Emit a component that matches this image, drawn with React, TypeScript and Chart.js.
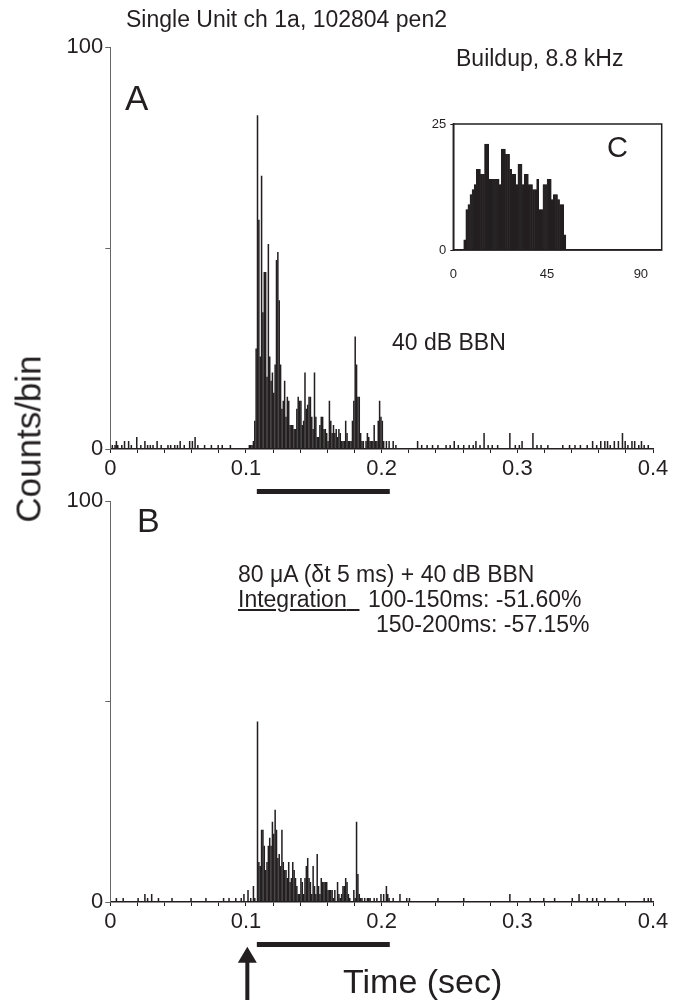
import React, { useEffect, useRef } from "react";
import { Chart, registerables } from "chart.js";

Chart.register(...registerables);

const FONT = "'Liberation Sans', Arial, Helvetica, sans-serif";
const INK = "#231f20";
Chart.defaults.font.family = FONT;

// ---------------- data ----------------
const BIN_SEC = 0.001; // 1 ms bins
const N_BINS = 400;
const ACTIVE_START_BIN = 100;

// Panel A (40 dB BBN), counts per 1-ms bin from 100 ms to 209 ms
const countsA_active = [
  0, 0, 1, 1, 1, 2, 7, 25, 83, 57,
  23, 68, 34, 44, 44, 18, 51, 23, 17, 19,
  14, 21, 47, 49, 37, 21, 10, 12, 17, 8,
  13, 12, 6, 6, 6, 5, 5, 10, 13, 12,
  12, 6, 7, 19, 10, 11, 13, 13, 8, 5,
  19, 8, 3, 3, 6, 8, 8, 5, 5, 4,
  2, 12, 7, 4, 6, 4, 5, 3, 5, 4,
  2, 2, 2, 7, 4, 2, 2, 2, 7, 12,
  28, 21, 13, 13, 4, 2, 2, 0, 2, 4,
  3, 2, 2, 2, 6, 2, 2, 7, 12, 8,
  7, 2, 0, 2, 0, 2, 0, 0, 2, 0,
];
// Panel A spontaneous activity: [bin (ms), count]
const countsA_sparse: [number, number][] = [
  [1, 1], [3, 1], [4, 2], [5, 1], [8, 1], [10, 2], [13, 2], [15, 1], [19, 3], [22, 1],
  [25, 2], [27, 1], [29, 1], [31, 1], [34, 2], [37, 1], [42, 1], [44, 1], [47, 1], [49, 1],
  [51, 2], [54, 1], [58, 2], [60, 2], [62, 3], [64, 1], [69, 1], [74, 1], [79, 1], [82, 1],
  [88, 1], [210, 1], [226, 2], [229, 1], [233, 1], [237, 1], [241, 1], [247, 1], [250, 1],
  [253, 2], [256, 1], [260, 1], [264, 1], [267, 1], [269, 2], [272, 1], [275, 4], [278, 1],
  [281, 1], [285, 1], [294, 4], [298, 1], [301, 1], [303, 2], [311, 4], [314, 1], [317, 1],
  [322, 1], [333, 1], [338, 1], [342, 1], [346, 1], [351, 1], [355, 2], [358, 1], [361, 2],
  [364, 2], [366, 2], [368, 1], [371, 2], [374, 2], [377, 4], [379, 2], [381, 1], [384, 2],
  [386, 2], [389, 1], [391, 2], [393, 1], [396, 1],
];

// Panel B (80 uA + 40 dB BBN), counts per 1-ms bin from 100 ms to 209 ms
const countsB_active = [
  0, 3, 0, 1, 0, 4, 1, 0, 45, 10,
  9, 18, 18, 14, 8, 10, 14, 16, 14, 20,
  17, 23, 18, 11, 12, 9, 18, 10, 8, 8,
  6, 10, 5, 6, 10, 8, 6, 4, 2, 2,
  6, 5, 2, 6, 9, 11, 6, 5, 2, 9,
  4, 2, 12, 4, 2, 6, 5, 5, 5, 5,
  3, 3, 3, 3, 1, 3, 0, 5, 2, 1,
  2, 4, 4, 6, 5, 2, 1, 0, 0, 3,
  1, 20, 7, 2, 1, 1, 0, 1, 0, 1,
  1, 1, 0, 0, 1, 0, 1, 0, 0, 2,
  0, 2, 0, 4, 2, 1, 0, 0, 1, 0,
];
const countsB_sparse: [number, number][] = [
  [4, 1], [9, 1], [20, 1], [25, 2], [27, 1], [30, 2], [35, 1], [45, 1], [59, 1], [70, 1],
  [83, 1], [87, 1], [92, 1], [96, 1], [98, 2], [213, 2], [218, 1], [220, 1], [241, 1],
  [260, 1], [294, 2], [309, 1], [319, 1], [327, 1], [340, 1], [345, 2], [351, 1], [355, 1],
  [358, 1], [364, 1], [374, 1], [393, 1], [396, 1], [398, 1],
];

// Inset C (Buildup, 8.8 kHz): counts per unit bin starting at bin 5
const insetFirstBin = 5;
const insetCounts = [
  2, 8, 9, 11, 12, 13, 16, 16, 15, 15,
  21, 21, 14, 14, 14, 14, 14, 13, 20, 20,
  19, 19, 16, 15, 15, 13, 17, 17, 13, 15,
  15, 13, 13, 12, 12, 14, 8, 8, 13, 13,
  14, 14, 10, 11, 11, 10, 9, 9, 3,
];

const mainXTicks = [0, 0.02, 0.04, 0.06, 0.08, 0.1, 0.12, 0.14, 0.16, 0.18, 0.2, 0.22, 0.24, 0.26, 0.28, 0.3, 0.32, 0.34, 0.36, 0.38, 0.4];
const mainXLabels = [0, 0.1, 0.2, 0.3, 0.4];
const mainYTicks = [0, 50, 100];
const mainYLabels = [0, 100];
const insetXTicks = [0, 45, 90];
const insetYTicks = [0, 25];
const stimulusSec = [0.108, 0.206];
const stimArrowSec = 0.101;

// ---------------- helpers ----------------
function buildCounts(active: number[], sparse: [number, number][]) {
  const counts = new Array(N_BINS).fill(0);
  sparse.forEach(([b, c]) => (counts[b] = c));
  active.forEach((c, i) => (counts[ACTIVE_START_BIN + i] = c));
  return counts.map((c, i) => ({ x: (i + 0.5) * BIN_SEC, y: c }));
}

const stimulusPlugin = {
  id: "stimulus",
  afterDraw(chart: any, _args: any, opts: any) {
    const { ctx, chartArea } = chart;
    const x = chart.scales.x;
    ctx.save();
    ctx.fillStyle = INK;
    const x0 = x.getPixelForValue(opts.range[0]);
    const x1 = x.getPixelForValue(opts.range[1]);
    const yb = chartArea.bottom + opts.offset;
    ctx.fillRect(x0, yb - 2.5, x1 - x0, 5);
    if (opts.arrow != null) {
      const ax = x.getPixelForValue(opts.arrow);
      const tip = chartArea.bottom + 44.7;
      const headBase = tip + 16;
      ctx.beginPath();
      ctx.moveTo(ax, tip);
      ctx.lineTo(ax - 9.5, headBase);
      ctx.lineTo(ax + 9.5, headBase);
      ctx.closePath();
      ctx.fill();
      ctx.fillRect(ax - 2, headBase - 1, 4, chart.height - headBase + 1);
    }
    ctx.restore();
  },
};

const boxPlugin = {
  id: "box",
  afterDraw(chart: any) {
    const { ctx, chartArea: a } = chart;
    ctx.save();
    ctx.strokeStyle = INK;
    ctx.lineWidth = 1.5;
    ctx.strokeRect(a.left, a.top, a.right - a.left, a.bottom - a.top);
    ctx.restore();
  },
};

function panelConfig(data: any[], padTop: number, xAxisHeight: number, arrow: number | null) {
  return {
    type: "bar",
    data: {
      datasets: [
        {
          data,
          backgroundColor: INK,
          borderWidth: 0,
          barPercentage: 1.12,
          categoryPercentage: 1,
        },
      ],
    },
    options: {
      animation: false,
      responsive: false,
      devicePixelRatio: 1,
      events: [],
      layout: { padding: { top: padTop, right: 31, bottom: 0, left: 0 } },
      plugins: {
        legend: { display: false },
        tooltip: { enabled: false },
        stimulus: { range: stimulusSec, offset: 42.5, arrow },
      },
      scales: {
        x: {
          type: "linear",
          min: 0,
          max: 0.4,
          offset: false,
          afterFit: (s: any) => {
            s.height = xAxisHeight;
          },
          afterBuildTicks: (s: any) => {
            s.ticks = mainXTicks.map((v) => ({ value: v }));
          },
          ticks: {
            autoSkip: false,
            maxRotation: 0,
            padding: 3,
            color: INK,
            font: { size: 22, family: FONT },
            callback: (v: number) => {
              const l = mainXLabels.find((q) => Math.abs(q - v) < 1e-9);
              return l === undefined ? "" : String(l);
            },
          },
          grid: { display: true, drawOnChartArea: false, drawTicks: true, tickLength: 4, color: INK, lineWidth: 1, offset: false },
          border: { display: true, color: INK, width: 1.5 },
        },
        y: {
          min: 0,
          max: 100,
          afterFit: (s: any) => {
            s.width = 110.3;
          },
          afterBuildTicks: (s: any) => {
            s.ticks = mainYTicks.map((v) => ({ value: v }));
          },
          ticks: {
            padding: 2,
            color: INK,
            font: { size: 22, family: FONT },
            callback: (v: number) => (mainYLabels.includes(v) ? String(v) : ""),
          },
          grid: { display: true, drawOnChartArea: false, drawTicks: true, tickLength: 5, color: "#666", lineWidth: 1 },
          border: { display: true, color: "#666", width: 1 },
        },
      },
    },
    plugins: [stimulusPlugin],
  };
}

function insetConfig() {
  const data = insetCounts.map((c, i) => ({ x: insetFirstBin + i + 0.5, y: c }));
  return {
    type: "bar",
    data: {
      datasets: [
        {
          data,
          backgroundColor: INK,
          borderColor: INK,
          borderWidth: 0.5,
          barPercentage: 1,
          categoryPercentage: 1,
        },
      ],
    },
    options: {
      animation: false,
      responsive: false,
      devicePixelRatio: 1,
      events: [],
      layout: { padding: { top: 19, right: 22.3, bottom: 0, left: 0 } },
      plugins: { legend: { display: false }, tooltip: { enabled: false } },
      scales: {
        x: {
          type: "linear",
          min: 0,
          max: 100,
          offset: false,
          afterFit: (s: any) => {
            s.height = 45;
          },
          afterBuildTicks: (s: any) => {
            s.ticks = insetXTicks.map((v) => ({ value: v }));
          },
          ticks: { autoSkip: false, maxRotation: 0, padding: 17, color: INK, font: { size: 13, family: FONT } },
          grid: { display: true, drawOnChartArea: false, drawTicks: false, offset: false },
          border: { display: true, color: INK, width: 1.5 },
        },
        y: {
          min: 0,
          max: 25,
          afterFit: (s: any) => {
            s.width = 33.3;
          },
          afterBuildTicks: (s: any) => {
            s.ticks = insetYTicks.map((v) => ({ value: v }));
          },
          ticks: { padding: 4, color: INK, font: { size: 13, family: FONT } },
          grid: { display: true, drawOnChartArea: false, drawTicks: true, tickLength: 3, color: INK },
          border: { display: true, color: INK, width: 1.5 },
        },
      },
    },
    plugins: [boxPlugin],
  };
}

function Label(props: { x: number; baseline: number; size: number; children: any; style?: any }) {
  const { x, baseline, size, children, style } = props;
  return (
    <div
      style={{
        position: "absolute",
        left: x,
        top: baseline - 0.8465 * size,
        fontSize: size,
        lineHeight: `${size}px`,
        fontFamily: FONT,
        color: INK,
        whiteSpace: "nowrap",
        ...style,
      }}
    >
      {children}
    </div>
  );
}

export default function App() {
  const refA = useRef<HTMLCanvasElement>(null);
  const refB = useRef<HTMLCanvasElement>(null);
  const refC = useRef<HTMLCanvasElement>(null);

  useEffect(() => {
    const charts: Chart[] = [];
    if (refA.current) charts.push(new Chart(refA.current, panelConfig(buildCounts(countsA_active, countsA_sparse), 47, 51, null) as any));
    if (refB.current) charts.push(new Chart(refB.current, panelConfig(buildCounts(countsB_active, countsB_sparse), 41, 98, stimArrowSec) as any));
    if (refC.current) charts.push(new Chart(refC.current, insetConfig() as any));
    return () => charts.forEach((c) => c.destroy());
  }, []);

  return (
    <div style={{ position: "absolute", left: 0, top: 0, width: 684, height: 1000, overflow: "hidden", background: "#fff" }}>
      <canvas ref={refA} width={684} height={500} style={{ position: "absolute", left: 0, top: 0 }} />
      <canvas ref={refB} width={684} height={540} style={{ position: "absolute", left: 0, top: 460 }} />
      <canvas ref={refC} width={264} height={190} style={{ position: "absolute", left: 420, top: 105 }} />

      <Label x={126} baseline={27} size={23}>Single Unit ch 1a, 102804 pen2</Label>
      <Label x={125} baseline={110} size={35}>A</Label>
      <Label x={456} baseline={66} size={23}>Buildup, 8.8 kHz</Label>
      <Label x={607} baseline={158} size={29}>C</Label>
      <Label x={392} baseline={350} size={23}>40 dB BBN</Label>

      <Label x={137} baseline={532} size={34}>B</Label>
      <Label x={238} baseline={582} size={23}>80 μA (δt 5 ms) + 40 dB BBN</Label>
      <Label x={238} baseline={607} size={23}>
        <span style={{ textDecoration: "underline" }}>Integration{"\u00a0\u00a0"}</span>
      </Label>
      <Label x={368} baseline={607} size={23}>100-150ms: -51.60%</Label>
      <Label x={376} baseline={632} size={23}>150-200ms: -57.15%</Label>

      <div
        style={{
          position: "absolute",
          left: 28,
          top: 439,
          transform: "translate(-50%, -50%) rotate(-90deg)",
          fontSize: 35,
          lineHeight: "35px",
          fontFamily: FONT,
          color: INK,
          whiteSpace: "nowrap",
        }}
      >
        Counts/bin
      </div>
      <Label x={343} baseline={993} size={34}>Time (sec)</Label>
    </div>
  );
}
